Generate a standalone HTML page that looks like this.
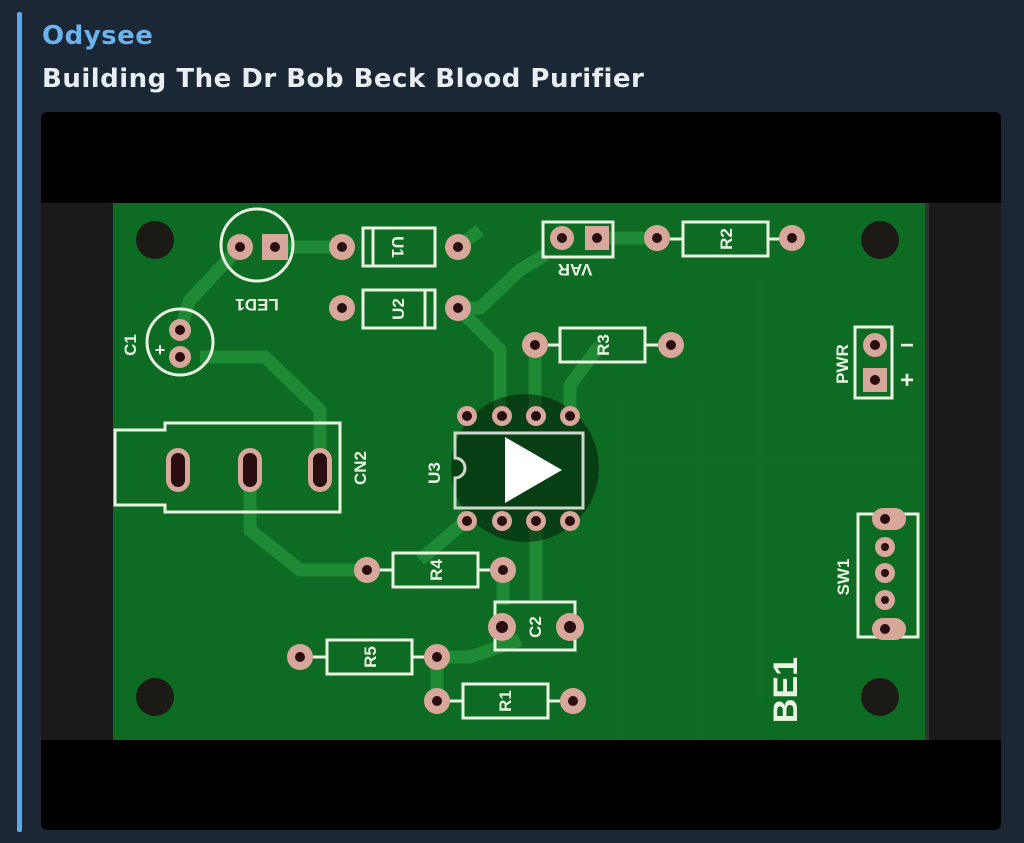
<!DOCTYPE html>
<html><head><meta charset="utf-8"><style>
html,body{margin:0;padding:0;width:1024px;height:843px;background:#1b2734;overflow:hidden;font-family:"Liberation Sans","DejaVu Sans",sans-serif}
.bar{position:absolute;left:17px;top:12px;width:5px;height:820px;background:#5aa9ef;border-radius:2px}
.t1{position:absolute;left:42px;top:21px;font-family:"DejaVu Sans",sans-serif;font-size:26px;font-weight:bold;color:#6cb2ee;letter-spacing:0.5px}
.t2{position:absolute;left:42px;top:64px;font-family:"DejaVu Sans",sans-serif;font-size:26px;font-weight:bold;color:#e9eef2;letter-spacing:0.5px}
svg{position:absolute;left:0;top:0}
</style></head><body>
<div class="bar"></div>
<div class="t1">Odysee</div>
<div class="t2">Building The Dr Bob Beck Blood Purifier</div>
<svg width="1024" height="843" viewBox="0 0 1024 843" font-family="Liberation Sans, sans-serif" font-weight="bold">
<defs><clipPath id="c"><rect x="41" y="112" width="960" height="718" rx="6"/></clipPath></defs>
<g clip-path="url(#c)">
<rect x="41" y="112" width="960" height="718" fill="#000"/>
<rect x="41" y="203" width="960" height="537" fill="#1a1a1a"/>
<rect x="113" y="203" width="812" height="537" fill="#0e6b24"/>
<rect x="925" y="203" width="4" height="537" fill="#333"/>
<g stroke="#1f8a35" stroke-width="13" fill="none" stroke-linejoin="round">
<path d="M275 247 H342"/>
<path d="M240 247 L190 300 L180 330"/>
<path d="M200 357 H265 L320 410 V470"/>
<path d="M250 470 V530 L300 570 H367"/>
<path d="M458 308 H480 L520 270 L545 255"/>
<path d="M458 308 L500 350 V415"/>
<path d="M535 345 V415"/>
<path d="M600 345 L570 385 V415"/>
<path d="M503 570 V605"/>
<path d="M536 520 V600"/>
<path d="M437 657 H470 L520 640"/>
<path d="M437 657 V700"/>
<path d="M467 520 L420 560"/>
<path d="M458 247 L480 230"/>
<path d="M597 238 H657"/>
</g>
<g stroke="#136f28" stroke-width="10" fill="none" opacity=".35">
<path d="M620 400 V740 M700 400 V740 M760 280 V700 M620 460 H920"/>
</g>
<g fill="#1c1a16"><circle cx="155" cy="240" r="19"/><circle cx="880" cy="240" r="19"/><circle cx="155" cy="697" r="19"/><circle cx="880" cy="697" r="19"/></g>
<g stroke="#e8f3e0" stroke-width="3" fill="none">
<circle cx="257" cy="245" r="36"/>
<rect x="363" y="228" width="72" height="38"/><line x1="373" y1="228" x2="373" y2="266"/>
<rect x="363" y="290" width="72" height="38"/><line x1="425" y1="290" x2="425" y2="328"/>
<rect x="543" y="222" width="70" height="35"/>
<rect x="683" y="222" width="85" height="34"/><line x1="670" y1="239" x2="683" y2="239"/><line x1="768" y1="239" x2="780" y2="239"/>
<rect x="560" y="328" width="85" height="34"/><line x1="548" y1="345" x2="560" y2="345"/><line x1="645" y1="345" x2="658" y2="345"/>
<circle cx="180" cy="342" r="33"/>
<path d="M115 430 H165 V423 H340 V512 H165 V505 H115 Z"/>
<rect x="393" y="553" width="85" height="34"/><line x1="380" y1="570" x2="393" y2="570"/><line x1="478" y1="570" x2="490" y2="570"/>
<rect x="495" y="602" width="80" height="48"/>
<rect x="327" y="640" width="85" height="34"/><line x1="313" y1="657" x2="327" y2="657"/><line x1="412" y1="657" x2="424" y2="657"/>
<rect x="463" y="684" width="85" height="34"/><line x1="450" y1="701" x2="463" y2="701"/><line x1="548" y1="701" x2="560" y2="701"/>
<rect x="855" y="327" width="37" height="71"/>
<rect x="858" y="514" width="60" height="123"/>
</g>
<circle cx="525" cy="468" r="74" fill="#000" opacity=".42"/>
<path d="M455 433 H583 V508 H455 V478 A10 10 0 0 0 455 458 Z" stroke="#cfd8cc" stroke-width="3" fill="none"/>
<g fill="#d7a79c">
<circle cx="240" cy="247" r="13"/><rect x="262" y="234" width="26" height="26"/>
<circle cx="342" cy="247" r="13"/><circle cx="458" cy="247" r="13"/>
<circle cx="342" cy="308" r="13"/><circle cx="458" cy="308" r="13"/>
<circle cx="562" cy="238" r="12"/><rect x="585" y="226" width="24" height="24"/>
<circle cx="657" cy="238" r="13"/><circle cx="792" cy="238" r="13"/>
<circle cx="535" cy="345" r="13"/><circle cx="671" cy="345" r="13"/>
<circle cx="180" cy="330" r="11"/><circle cx="180" cy="357" r="11"/>
<rect x="166" y="448" width="24" height="44" rx="12"/><rect x="238" y="448" width="24" height="44" rx="12"/><rect x="308" y="448" width="24" height="44" rx="12"/>
<circle cx="467" cy="416" r="10"/><circle cx="502" cy="416" r="10"/><circle cx="536" cy="416" r="10"/><circle cx="570" cy="416" r="10"/>
<circle cx="467" cy="521" r="10"/><circle cx="502" cy="521" r="10"/><circle cx="536" cy="521" r="10"/><circle cx="570" cy="521" r="10"/>
<circle cx="367" cy="570" r="13"/><circle cx="503" cy="570" r="13"/>
<circle cx="502" cy="627" r="14"/><circle cx="570" cy="627" r="14"/>
<circle cx="300" cy="657" r="13"/><circle cx="437" cy="657" r="13"/>
<circle cx="437" cy="701" r="13"/><circle cx="573" cy="701" r="13"/>
<circle cx="875" cy="345" r="12"/><rect x="863" y="368" width="24" height="24"/>
<rect x="872" y="508" width="34" height="22" rx="11"/><circle cx="885" cy="547" r="10"/><circle cx="885" cy="573" r="10"/><circle cx="885" cy="600" r="10"/><rect x="872" y="618" width="34" height="22" rx="11"/>
</g>
<g fill="#2a0d10">
<circle cx="240" cy="247" r="5"/><circle cx="275" cy="247" r="5"/><circle cx="342" cy="247" r="5"/><circle cx="458" cy="247" r="5"/>
<circle cx="342" cy="308" r="5"/><circle cx="458" cy="308" r="5"/><circle cx="562" cy="238" r="5"/><circle cx="597" cy="238" r="5"/>
<circle cx="657" cy="238" r="5"/><circle cx="792" cy="238" r="5"/><circle cx="535" cy="345" r="5"/><circle cx="671" cy="345" r="5"/>
<circle cx="180" cy="330" r="5"/><circle cx="180" cy="357" r="5"/>
<rect x="171" y="453" width="14" height="34" rx="7"/><rect x="243" y="453" width="14" height="34" rx="7"/><rect x="313" y="453" width="14" height="34" rx="7"/>
<circle cx="467" cy="416" r="5"/><circle cx="502" cy="416" r="5"/><circle cx="536" cy="416" r="5"/><circle cx="570" cy="416" r="5"/>
<circle cx="467" cy="521" r="5"/><circle cx="502" cy="521" r="5"/><circle cx="536" cy="521" r="5"/><circle cx="570" cy="521" r="5"/>
<circle cx="367" cy="570" r="5"/><circle cx="503" cy="570" r="5"/><circle cx="502" cy="627" r="6"/><circle cx="570" cy="627" r="6"/>
<circle cx="300" cy="657" r="5"/><circle cx="437" cy="657" r="5"/><circle cx="437" cy="701" r="5"/><circle cx="573" cy="701" r="5"/>
<circle cx="875" cy="345" r="5"/><circle cx="875" cy="380" r="5"/>
<circle cx="885" cy="519" r="5"/><circle cx="885" cy="547" r="4"/><circle cx="885" cy="573" r="4"/><circle cx="885" cy="600" r="4"/><circle cx="885" cy="629" r="5"/>
</g>
<g fill="#e8f3e0" font-size="17" text-anchor="middle">
<text transform="translate(257,299) rotate(180)">LED1</text>
<text transform="translate(575,264) rotate(180)">VAR</text>
<text transform="translate(398,247) rotate(90)" dy="6">U1</text>
<text transform="translate(398,309) rotate(-90)" dy="6">U2</text>
<text transform="translate(726,239) rotate(-90)" dy="6">R2</text>
<text transform="translate(603,345) rotate(-90)" dy="6">R3</text>
<text transform="translate(130,345) rotate(-90)" dy="6">C1</text>
<text transform="translate(360,468) rotate(-90)" dy="6">CN2</text>
<text transform="translate(434,473) rotate(-90)" dy="6">U3</text>
<text transform="translate(436,570) rotate(-90)" dy="6">R4</text>
<text transform="translate(535,627) rotate(-90)" dy="6">C2</text>
<text transform="translate(370,657) rotate(-90)" dy="6">R5</text>
<text transform="translate(505,701) rotate(-90)" dy="6">R1</text>
<text transform="translate(842,364) rotate(-90)" dy="6">PWR</text>
<text transform="translate(843,577) rotate(-90)" dy="6">SW1</text>
<text transform="translate(785,690) rotate(-90)" dy="12" font-size="34">BE1</text>
<text x="907" y="353" font-size="24">−</text>
<text x="907" y="388" font-size="24">+</text>
<text x="160" y="356" font-size="18">+</text>
</g>
<path d="M505 437 L562 470 L505 503 Z" fill="#fff"/>
</g>
</svg>
</body></html>
